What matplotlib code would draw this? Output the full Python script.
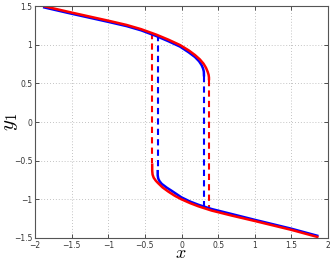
import matplotlib
matplotlib.use("Agg")
import matplotlib.pyplot as plt

plt.rcParams['mathtext.fontset'] = 'cm'

# Red curve (upper and lower branches)
red_up_x = [-1.89, -1.5, -1.0, -0.75, -0.55, -0.34, -0.18, -0.02, 0.1, 0.184, 0.25, 0.30, 0.335, 0.357, 0.37, 0.375, 0.375]
red_up_y = [1.50, 1.415, 1.31, 1.255, 1.20, 1.128, 1.065, 0.995, 0.925, 0.866, 0.81, 0.755, 0.70, 0.65, 0.61, 0.575, 0.54]
red_lo_x = [-0.40, -0.40, -0.395, -0.38, -0.35, -0.32, -0.26, -0.18, -0.09, 0.0, 0.12, 0.23, 0.41, 0.685, 1.0, 1.5, 1.87]
red_lo_y = [-0.535, -0.63, -0.68, -0.72, -0.76, -0.79, -0.845, -0.90, -0.955, -1.0, -1.05, -1.09, -1.145, -1.21, -1.28, -1.395, -1.49]
# Blue curve
blue_up_x = [-1.89, -1.5, -1.0, -0.75, -0.55, -0.34, -0.18, -0.02, 0.1, 0.184, 0.24, 0.275, 0.295, 0.305, 0.307]
blue_up_y = [1.485, 1.40, 1.295, 1.24, 1.185, 1.11, 1.045, 0.975, 0.90, 0.84, 0.785, 0.735, 0.69, 0.65, 0.59]
blue_lo_x = [-0.325, -0.325, -0.318, -0.30, -0.27, -0.2, -0.134, 0.0, 0.12, 0.23, 0.41, 0.685, 1.0, 1.5, 1.87]
blue_lo_y = [-0.62, -0.69, -0.73, -0.765, -0.80, -0.85, -0.89, -0.975, -1.03, -1.07, -1.125, -1.19, -1.265, -1.38, -1.475]
# Dashed jump lines
red_jump_x = [-0.40, 0.375]
red_jump_top = [1.15, 0.54]
red_jump_bot = [-0.535, -1.12]
blue_jump_x = [-0.325, 0.307]
blue_jump_top = [1.12, 0.59]
blue_jump_bot = [-0.62, -1.09]

xticks = [-2, -1.5, -1, -0.5, 0, 0.5, 1, 1.5, 2]
yticks = [-1.5, -1, -0.5, 0, 0.5, 1, 1.5]

W, H = 332, 261
fig = plt.figure(figsize=(W / 100, H / 100), dpi=100)
ax = fig.add_axes([35 / W, 23 / H, 293 / W, 232 / H])

red = '#ff0000'
blue = '#0000ff'
for xs, top, bot in zip(blue_jump_x, blue_jump_top, blue_jump_bot):
    ax.plot([xs, xs], [top, bot], color=blue, lw=1.5, dashes=(3, 2))
for xs, top, bot in zip(red_jump_x, red_jump_top, red_jump_bot):
    ax.plot([xs, xs], [top, bot], color=red, lw=1.5, dashes=(3, 2))
ax.plot(blue_up_x, blue_up_y, color=blue, lw=1.8, solid_capstyle='butt', solid_joinstyle='round')
ax.plot(blue_lo_x, blue_lo_y, color=blue, lw=1.8, solid_capstyle='butt', solid_joinstyle='round')
ax.plot(red_up_x, red_up_y, color=red, lw=1.8, solid_capstyle='butt', solid_joinstyle='round')
ax.plot(red_lo_x, red_lo_y, color=red, lw=1.8, solid_capstyle='butt', solid_joinstyle='round')

ax.set_xlim(-2, 2)
ax.set_ylim(-1.5, 1.5)
ax.set_xticks(xticks)
ax.set_yticks(yticks)
ax.set_xticklabels(['%g' % t if t >= 0 else '\u2212%g' % -t for t in xticks])
ax.set_yticklabels(['%g' % t if t >= 0 else '\u2212%g' % -t for t in yticks])
ax.tick_params(direction='in', length=3, width=0.6, labelsize=5.5, colors='#333333',
               top=True, right=True, pad=2)
for s in ax.spines.values():
    s.set_color('#555555')
    s.set_linewidth(0.8)
ax.grid(True, linestyle=(0, (1, 2.5)), color='#b0b0b0', linewidth=0.6)

fig.text(181 / W, 1 - 258 / H, '$x$', fontsize=13, ha='center', va='baseline')
fig.text(10 / W, 1 - 122 / H, '$y_1$', fontsize=15, rotation=90, ha='center', va='center')

fig.savefig('out.png', dpi=100)
